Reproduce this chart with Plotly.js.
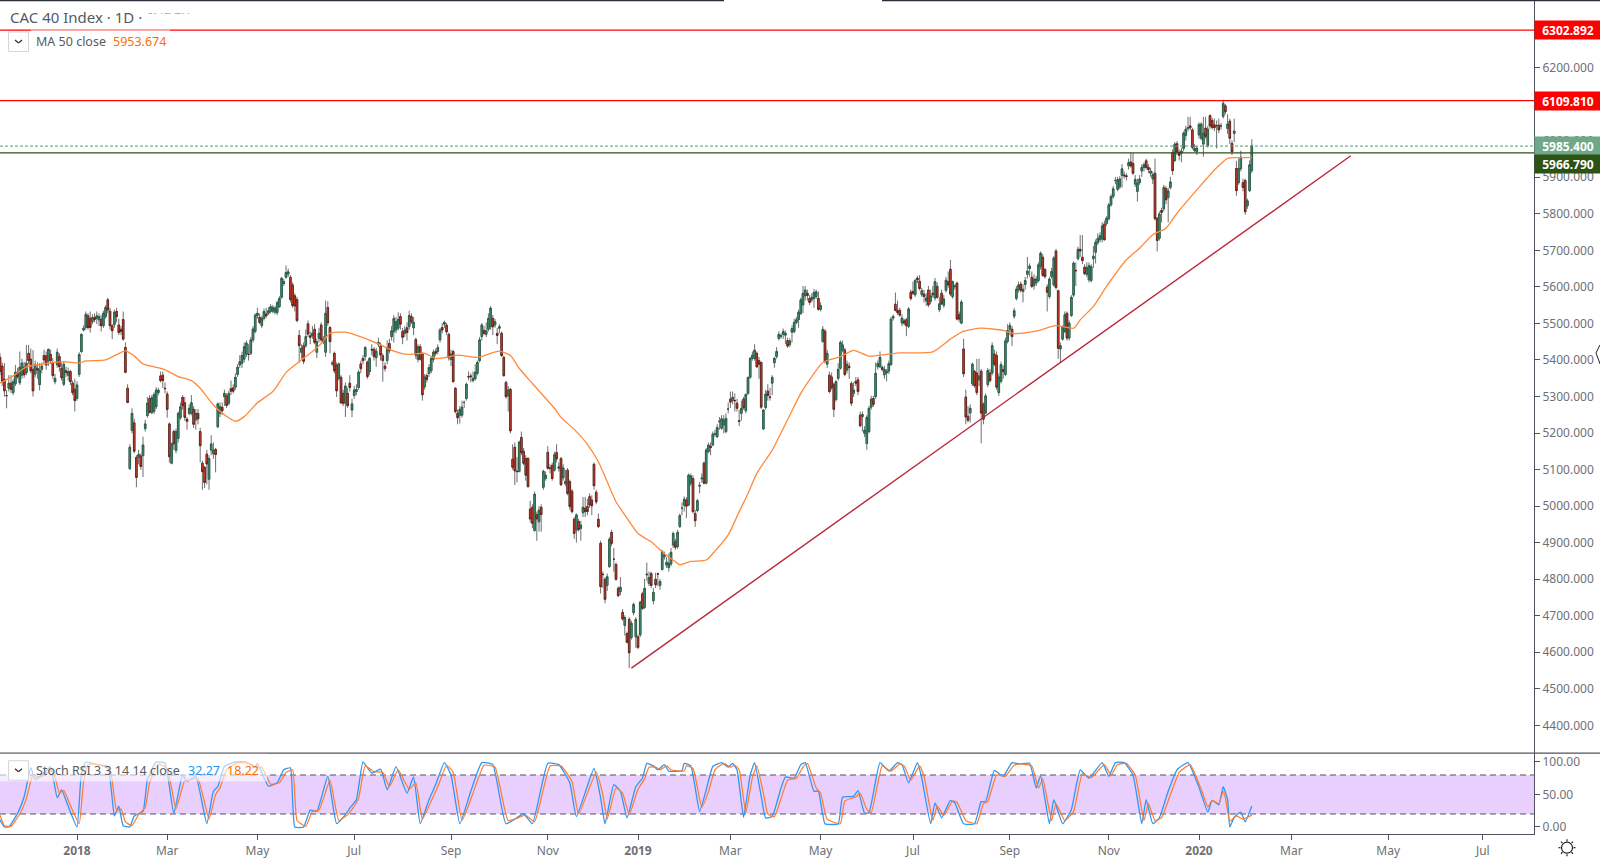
<!DOCTYPE html>
<html><head><meta charset="utf-8">
<script src="https://cdn.plot.ly/plotly-3.0.1.min.js"></script>
<style>html,body{margin:0;padding:0;background:#fff}#chart{width:1600px;height:860px}</style>
</head><body><div id="chart"></div>
<script>
const opens=[5404,5380,5344,5298,5319,5333,5307,5331,5363,5334,
5355,5377,5362,5415,5399,5371,5358,5374,5329,5371,
5409,5408,5394,5412,5390,5337,5383,5406,5374,5330,
5367,5355,5365,5333,5316,5291,5357,5420,5479,5486,
5518,5511,5502,5514,5511,5507,5508,5491,5516,5562,
5531,5491,5494,5530,5493,5481,5508,5431,5319,5098,
5203,5224,5129,5129,5133,5134,5208,5244,5291,5252,
5255,5268,5307,5353,5355,5319,5303,5221,5113,5200,
5148,5181,5238,5294,5279,5234,5250,5250,5261,5232,
5250,5200,5113,5102,5138,5069,5149,5139,5151,5213,
5250,5267,5296,5298,5278,5318,5320,5322,5357,5383,
5388,5399,5413,5412,5415,5452,5475,5519,5514,5491,
5511,5523,5525,5530,5531,5528,5527,5543,5569,5607,
5624,5633,5624,5603,5573,5563,5464,5418,5436,5436,
5496,5463,5463,5481,5418,5456,5493,5453,5418,5541,
5486,5386,5415,5383,5346,5349,5305,5278,5305,5333,
5259,5299,5310,5321,5386,5401,5406,5391,5365,5426,
5426,5403,5440,5435,5408,5380,5395,5442,5461,5474,
5479,5484,5516,5475,5470,5485,5488,5516,5485,5453,
5398,5433,5413,5323,5354,5360,5367,5398,5420,5420,
5452,5486,5495,5492,5467,5398,5420,5319,5250,5245,
5245,5280,5291,5351,5353,5340,5345,5360,5395,5461,
5478,5467,5481,5488,5511,5493,5470,5484,5470,5404,
5335,5298,5316,5124,5157,5091,5090,5184,5146,5126,
5126,4987,4992,4928,4972,4952,4992,5047,5071,5143,
5100,5107,5094,5142,5099,5126,5073,5057,5094,5062,
5036,4959,4929,4953,4934,4977,4989,4994,5021,5012,
5110,5033,4959,4893,4808,4794,4777,4829,4923,4849,
4835,4769,4760,4703,4667,4645,4684,4634,4702,4636,
4636,4641,4754,4717,4806,4783,4810,4735,4794,4809,
4777,4821,4856,4833,4826,4836,4888,4897,4884,4939,
4989,4998,5012,4998,5058,5071,4975,4983,5050,5070,
5113,5058,5145,5160,5163,5193,5186,5227,5209,5218,
5200,5262,5289,5285,5285,5278,5230,5250,5289,5257,
5305,5349,5401,5401,5415,5395,5390,5207,5266,5311,
5295,5333,5389,5406,5456,5462,5467,5465,5450,5439,
5473,5475,5500,5508,5525,5548,5573,5580,5566,5562,
5566,5571,5566,5536,5447,5476,5385,5355,5350,5330,
5288,5346,5374,5424,5424,5369,5379,5332,5305,5338,
5342,5245,5241,5195,5167,5200,5267,5291,5296,5378,
5378,5376,5356,5361,5366,5384,5512,5550,5533,5533,
5498,5504,5507,5489,5583,5585,5576,5622,5613,5576,
5578,5559,5589,5558,5580,5567,5599,5535,5580,5547,
5588,5612,5646,5571,5598,5608,5521,5498,5427,5295,
5242,5251,5331,5365,5361,5342,5366,5275,5251,5329,
5361,5361,5413,5409,5307,5338,5370,5357,5448,5481,
5481,5517,5566,5590,5605,5585,5604,5632,5648,5624,
5601,5608,5615,5654,5679,5645,5597,5571,5626,5603,
5696,5587,5427,5454,5475,5525,5457,5519,5575,5643,
5675,5701,5679,5652,5632,5617,5615,5675,5693,5719,
5727,5729,5770,5772,5785,5823,5846,5890,5866,5873,
5904,5905,5903,5930,5941,5937,5880,5860,5884,5916,
5926,5944,5926,5910,5894,5910,5786,5731,5808,5812,
5868,5843,5871,5967,5945,5991,5967,5965,5978,6014,
6033,6040,6029,5972,5969,6015,6006,5990,6034,5986,
6068,6055,6043,6040,6042,6040,6066,6095,6033,6053,
5992,6019,5923,5884,5922,5884,5890,5820,5862,5917];
const closes=[5365,5337,5312,5299,5333,5316,5337,5363,5351,5377,
5388,5356,5388,5395,5367,5312,5384,5369,5369,5380,
5397,5383,5426,5395,5354,5346,5418,5378,5348,5385,
5362,5365,5337,5307,5285,5328,5412,5467,5484,5522,
5486,5486,5513,5508,5518,5516,5491,5525,5541,5534,
5491,5477,5528,5516,5472,5475,5454,5363,5280,5157,
5250,5146,5074,5137,5104,5163,5221,5278,5253,5293,
5301,5314,5314,5340,5340,5318,5261,5131,5166,5166,
5200,5250,5268,5271,5239,5228,5264,5279,5220,5250,
5235,5161,5090,5060,5111,5126,5166,5149,5137,5276,
5268,5257,5305,5272,5305,5311,5311,5349,5377,5392,
5409,5433,5443,5412,5452,5482,5520,5525,5500,5511,
5530,5518,5532,5543,5541,5539,5554,5566,5621,5612,
5637,5639,5563,5546,5545,5505,5436,5429,5393,5461,
5468,5459,5470,5445,5447,5470,5452,5447,5525,5499,
5447,5388,5367,5312,5386,5279,5278,5325,5271,5321,
5276,5314,5316,5363,5373,5395,5431,5351,5401,5424,
5406,5421,5445,5410,5395,5373,5431,5422,5477,5511,
5502,5508,5495,5459,5479,5472,5519,5501,5500,5410,
5433,5399,5301,5349,5343,5376,5401,5418,5415,5431,
5479,5479,5500,5474,5403,5413,5337,5255,5238,5261,
5267,5280,5330,5350,5351,5346,5363,5390,5452,5493,
5470,5477,5511,5539,5488,5502,5464,5488,5409,5354,
5296,5314,5202,5102,5092,5090,5171,5142,5113,5080,
5049,4960,4948,5028,4960,4984,4972,5091,5080,5099,
5099,5071,5136,5125,5103,5054,5100,5063,5030,4994,
4980,4920,4971,4931,4943,4992,4980,4980,4998,4996,
5051,5007,4939,4774,4807,4739,4801,4904,4893,4849,
4794,4749,4772,4685,4689,4621,4592,4673,4725,4684,
4607,4731,4714,4769,4808,4799,4777,4758,4779,4808,
4788,4870,4860,4841,4838,4868,4920,4882,4923,4969,
4989,5014,4995,5080,5078,4980,4955,5010,5052,5072,
5058,5149,5163,5156,5193,5194,5211,5228,5235,5232,
5236,5262,5281,5294,5285,5264,5228,5264,5266,5302,
5348,5401,5410,5424,5378,5385,5267,5259,5303,5299,
5294,5349,5401,5420,5467,5463,5475,5470,5435,5449,
5483,5500,5507,5528,5562,5580,5589,5574,5555,5569,
5582,5584,5536,5546,5481,5392,5415,5310,5320,5261,
5337,5371,5445,5438,5357,5385,5376,5278,5314,5333,
5310,5216,5247,5204,5239,5264,5289,5275,5360,5387,
5404,5371,5371,5365,5387,5509,5516,5533,5527,5520,
5512,5498,5491,5537,5566,5580,5615,5617,5593,5587,
5571,5567,5548,5573,5576,5612,5569,5551,5551,5564,
5616,5603,5578,5612,5600,5509,5509,5556,5359,5240,
5231,5264,5385,5326,5307,5353,5251,5234,5298,5368,
5340,5436,5385,5322,5350,5384,5365,5449,5478,5492,
5461,5532,5591,5603,5588,5591,5615,5641,5655,5599,
5619,5619,5658,5690,5629,5626,5583,5619,5640,5677,
5596,5429,5436,5487,5521,5457,5498,5569,5663,5642,
5701,5696,5670,5634,5650,5656,5653,5682,5720,5731,
5738,5765,5727,5786,5823,5846,5867,5890,5892,5894,
5922,5903,5901,5939,5930,5910,5893,5883,5894,5926,
5933,5926,5920,5916,5906,5785,5725,5798,5802,5871,
5837,5861,5886,5917,5990,5968,5959,5971,6020,6031,
6035,6035,5981,5978,5979,6044,6045,6020,6011,6031,
6040,6036,6035,6041,6029,6040,6102,6079,6045,6006,
5969,6026,5862,5923,5954,5871,5804,5834,5933,5985.4];
const highs=[5415,5390,5388,5314,5355,5355,5345,5383,5375,5420,
5400,5392,5438,5438,5428,5424,5395,5390,5388,5390,
5425,5420,5428,5425,5402,5358,5428,5415,5390,5392,
5378,5376,5370,5340,5345,5338,5418,5470,5492,5530,
5525,5530,5522,5525,5530,5525,5520,5532,5548,5568,
5540,5495,5535,5540,5510,5490,5530,5445,5330,5165,
5264,5235,5135,5150,5140,5186,5232,5295,5300,5300,
5308,5322,5320,5365,5365,5335,5310,5225,5170,5205,
5208,5255,5280,5300,5295,5240,5275,5300,5270,5262,
5262,5210,5120,5105,5150,5135,5190,5170,5155,5280,
5280,5280,5315,5305,5312,5340,5330,5360,5385,5410,
5420,5445,5450,5440,5460,5490,5525,5540,5525,5518,
5538,5540,5542,5550,5548,5545,5560,5572,5625,5620,
5656,5648,5630,5610,5580,5570,5479,5440,5445,5480,
5505,5475,5490,5495,5455,5485,5500,5462,5560,5558,
5490,5395,5420,5390,5390,5355,5315,5335,5320,5355,
5290,5325,5330,5370,5395,5410,5435,5395,5405,5440,
5432,5430,5458,5445,5415,5390,5450,5455,5490,5520,
5515,5528,5525,5485,5490,5500,5532,5525,5515,5458,
5440,5440,5418,5358,5360,5385,5405,5425,5428,5440,
5485,5498,5505,5498,5472,5425,5425,5322,5260,5270,
5285,5285,5335,5365,5360,5365,5385,5395,5460,5498,
5490,5500,5525,5545,5520,5510,5485,5495,5475,5408,
5340,5325,5320,5165,5170,5130,5175,5200,5155,5135,
5130,5010,5000,5035,4980,4995,5000,5095,5090,5160,
5110,5115,5145,5165,5115,5130,5110,5095,5100,5068,
5042,4965,4975,4960,4955,5020,5020,5015,5030,5025,
5115,5040,4975,4900,4815,4800,4810,4910,4930,4880,
4840,4775,4800,4712,4695,4650,4690,4680,4730,4690,
4642,4735,4760,4795,4840,4815,4815,4770,4812,4812,
4795,4875,4870,4855,4865,4880,4925,4905,4930,4975,
5005,5022,5020,5085,5085,5080,4985,5015,5062,5085,
5118,5155,5170,5170,5200,5205,5220,5240,5245,5245,
5250,5280,5310,5310,5305,5290,5260,5285,5295,5305,
5352,5405,5420,5440,5420,5405,5392,5262,5315,5330,
5320,5355,5405,5432,5475,5470,5483,5478,5458,5456,
5492,5510,5515,5535,5568,5600,5600,5590,5575,5580,
5592,5590,5585,5555,5490,5482,5425,5365,5362,5335,
5342,5388,5450,5450,5430,5395,5390,5338,5335,5350,
5350,5255,5255,5215,5245,5270,5298,5298,5390,5395,
5420,5382,5380,5372,5395,5515,5522,5582,5560,5540,
5522,5510,5512,5542,5590,5612,5620,5628,5630,5595,
5590,5580,5600,5590,5600,5622,5610,5570,5590,5575,
5625,5640,5672,5615,5605,5612,5530,5562,5455,5315,
5270,5275,5390,5370,5400,5400,5372,5280,5305,5375,
5372,5445,5425,5420,5360,5392,5382,5458,5495,5500,
5490,5540,5600,5612,5612,5605,5625,5680,5662,5640,
5632,5628,5665,5695,5688,5650,5605,5625,5650,5682,
5702,5590,5445,5492,5530,5530,5505,5575,5668,5665,
5708,5740,5740,5660,5665,5665,5660,5710,5728,5745,
5748,5775,5780,5792,5828,5852,5875,5900,5900,5902,
5935,5915,5910,5950,5965,5965,5905,5895,5905,5935,
5940,5950,5935,5925,5915,5950,5790,5805,5815,5878,
5875,5870,5900,5975,5995,5998,5975,5980,6025,6040,
6065,6065,6035,5990,5985,6050,6050,6065,6065,6040,
6072,6062,6060,6055,6060,6048,6112,6100,6072,6060,
6000,6060,5944,5950,5972,5895,5895,5840,5945,6003];
const lows=[5355,5325,5296,5264,5310,5305,5300,5325,5345,5328,
5345,5348,5355,5385,5360,5296,5350,5345,5313,5360,
5385,5370,5380,5385,5345,5330,5375,5365,5340,5325,
5350,5340,5328,5300,5255,5285,5350,5415,5475,5480,
5480,5472,5495,5500,5495,5490,5475,5485,5510,5525,
5480,5454,5485,5500,5465,5465,5450,5360,5278,5095,
5195,5140,5047,5110,5095,5075,5200,5238,5250,5248,
5248,5262,5300,5335,5320,5305,5238,5115,5110,5150,
5140,5170,5232,5260,5230,5205,5245,5245,5210,5205,
5220,5115,5040,5045,5055,5040,5135,5125,5088,5210,
5240,5245,5270,5265,5272,5300,5305,5315,5350,5375,
5375,5390,5405,5395,5410,5445,5470,5510,5495,5485,
5505,5512,5520,5525,5525,5522,5520,5540,5565,5600,
5620,5625,5555,5540,5530,5500,5389,5400,5385,5430,
5460,5440,5455,5440,5402,5445,5445,5440,5405,5490,
5415,5380,5360,5295,5340,5275,5270,5240,5265,5310,
5240,5290,5300,5315,5360,5385,5395,5345,5355,5410,
5395,5378,5432,5395,5337,5365,5385,5415,5450,5445,
5470,5478,5480,5440,5460,5450,5480,5495,5465,5400,
5390,5395,5285,5315,5335,5350,5360,5390,5408,5412,
5445,5470,5485,5465,5395,5380,5335,5250,5220,5222,
5238,5265,5285,5340,5335,5335,5340,5355,5390,5450,
5465,5460,5475,5480,5465,5485,5440,5470,5405,5350,
5290,5255,5195,5095,5053,5060,5088,5135,5108,5065,
5045,4950,4935,4925,4900,4925,4925,5040,5065,5095,
5085,5065,5090,5115,5090,5050,5065,5050,5025,4985,
4975,4905,4895,4925,4900,4965,4965,4970,4990,4970,
5040,5000,4935,4755,4770,4728,4762,4825,4885,4815,
4790,4745,4750,4680,4640,4618,4550,4628,4695,4605,
4602,4635,4710,4712,4790,4775,4770,4725,4770,4775,
4765,4818,4848,4825,4815,4830,4880,4875,4878,4935,
4970,4980,4962,4995,5050,4975,4938,4978,5030,5060,
5055,5055,5140,5135,5160,5185,5182,5205,5205,5195,
5195,5250,5265,5275,5255,5255,5215,5230,5260,5250,
5300,5345,5395,5395,5375,5345,5262,5205,5260,5285,
5285,5300,5375,5400,5450,5455,5455,5440,5430,5432,
5445,5470,5495,5485,5520,5525,5560,5560,5548,5555,
5540,5565,5532,5530,5445,5388,5375,5305,5315,5240,
5282,5340,5370,5418,5352,5360,5345,5270,5295,5325,
5300,5212,5200,5185,5150,5195,5260,5268,5290,5370,
5375,5365,5345,5338,5358,5380,5505,5530,5520,5515,
5490,5492,5462,5484,5560,5575,5570,5608,5588,5570,
5555,5545,5542,5550,5568,5560,5565,5528,5548,5540,
5582,5595,5572,5565,5590,5505,5500,5495,5350,5220,
5225,5225,5325,5320,5300,5325,5168,5220,5248,5322,
5335,5355,5380,5315,5298,5332,5345,5352,5442,5465,
5435,5510,5560,5582,5582,5555,5590,5620,5625,5595,
5590,5600,5610,5645,5625,5620,5530,5565,5620,5598,
5590,5400,5390,5450,5470,5450,5450,5515,5570,5600,
5670,5680,5660,5630,5625,5610,5610,5650,5662,5712,
5720,5720,5725,5765,5780,5818,5840,5880,5860,5866,
5870,5895,5890,5920,5925,5905,5872,5832,5878,5900,
5915,5920,5910,5900,5880,5780,5695,5725,5775,5805,
5825,5775,5865,5905,5940,5960,5945,5940,5970,6000,
6025,6028,5975,5968,5960,6005,6000,5955,6005,5980,
6032,6030,6025,5978,6020,6030,6060,6072,6018,5990,
5960,5995,5848,5878,5915,5860,5796,5812,5858,5910];
const maIdx=[0,6,12,20,29,36,39,48,57,61,65,74,81,87,91,97,102,107,111,117,124,130,136,142,146,150,157,165,173,179,185,193,198,202,208,217,227,232,236,242,252,255,261,267,272,276,280,285,290,296,301,307,309,314,321,324,331,336,340,344,351,359,364,369,374,382,388,395,403,409,424,432,438,446,456,461,471,480,488,491,497,503,512,518,524,530,535,544,552,558,563,569];
const maVal=[5333,5353,5378,5386,5392,5388,5394,5397,5422,5408,5386,5372,5351,5340,5319,5273,5246,5228,5241,5279,5310,5362,5392,5420,5442,5470,5473,5458,5438,5421,5412,5415,5401,5403,5410,5404,5421,5409,5374,5332,5264,5239,5206,5165,5117,5062,5007,4962,4920,4897,4870,4842,4834,4843,4847,4865,4916,4980,5030,5085,5149,5245,5305,5351,5390,5406,5423,5407,5412,5416,5419,5454,5476,5484,5478,5469,5476,5491,5484,5507,5544,5599,5672,5704,5741,5759,5800,5864,5919,5951,5953,5953.674];
const kIdx=[0,2,4,8,11,14,16,20,23,26,28,31,35,37,39,44,49,52,54,56,59,61,65,67,71,75,79,83,85,89,94,97,99,102,107,112,116,117,122,126,129,132,134,138,141,144,149,153,157,159,162,165,169,173,176,180,185,188,191,195,198,202,205,209,214,219,224,230,238,242,249,254,259,262,270,273,275,279,282,285,289,292,294,297,299,302,304,310,311,314,318,321,324,328,331,333,335,338,341,343,346,348,351,355,357,361,364,366,370,372,375,381,383,388,390,393,395,400,404,408,410,413,417,419,423,425,428,432,434,438,443,446,448,452,456,460,463,468,471,473,477,479,483,487,491,495,501,504,507,511,515,519,521,524,527,531,535,540,545,549,551,554,556,558,559,561,564,566,569];
const kVal=[11,0,0,21,47,91,73,83,93,45,57,32,0,83,100,96,93,17,32,2,0,17,24,73,100,98,21,80,70,78,5,55,62,93,100,100,91,98,63,68,88,91,0,0,26,24,78,5,19,29,42,100,83,89,57,93,52,77,5,42,65,99,80,5,55,99,96,5,20,5,98,96,68,16,90,45,5,65,55,14,62,75,98,94,88,96,86,87,98,94,24,57,93,99,92,98,88,15,80,99,47,14,16,60,77,75,96,99,55,55,5,5,46,47,56,21,22,99,86,99,96,68,99,75,5,37,14,41,37,5,5,39,39,87,78,99,97,98,60,79,5,42,5,27,88,75,99,78,99,99,80,5,42,5,14,55,88,99,61,23,41,34,62,42,0,15,23,8,32.27];
const dIdx=[0,2,5,9,12,15,18,21,24,27,29,32,36,38,40,45,50,53,55,57,60,63,66,68,72,76,80,84,86,90,95,98,100,103,108,113,117,119,123,127,130,133,135,139,142,145,150,154,158,160,163,166,170,174,177,181,186,189,192,196,199,203,206,210,215,220,225,231,239,243,250,255,260,263,271,274,276,280,283,286,290,293,295,298,300,303,305,311,312,315,319,322,325,329,332,334,336,339,342,344,347,349,352,356,358,362,365,367,371,373,376,382,384,389,391,394,396,401,405,409,411,414,418,420,424,426,429,433,435,439,444,447,449,453,457,461,464,469,472,474,478,480,484,488,492,496,502,505,508,512,516,520,522,525,528,532,536,541,546,549,551,554,556,557,559,562,565,569];
const dVal=[18,2,1,20,44,80,76,82,88,52,56,33,5,70,96,96,88,25,28,8,2,19,30,68,97,90,28,72,72,74,12,50,60,88,99,98,92,92,66,68,84,88,10,1,24,26,72,10,19,27,44,94,85,84,62,88,58,68,12,40,62,95,84,10,52,95,92,10,18,8,94,94,70,20,84,50,12,60,52,19,58,74,92,92,88,94,88,86,94,90,30,54,88,98,92,95,88,22,76,94,52,20,16,54,72,75,92,98,60,52,12,5,40,46,52,27,22,94,86,97,94,72,94,78,10,32,18,40,38,10,5,36,39,80,78,95,97,94,60,74,10,36,10,24,82,76,96,80,96,98,80,10,36,10,14,50,84,96,58,31,41,36,55,45,9,17,12,18.22];
const trendIdx=[287,614];
const trendVal=[4550,5958];
const priceTicks=[4400,4500,4600,4700,4800,4900,5000,5100,5200,5300,5400,5500,5600,5700,5800,5900,6000,6200];
const rsiTicks=[0,50,100];
const rsiLabels=["0.00","50.00","100.00"];
const timeTicks=[35,76,117,161,205,249,290,332,373,415,459,504,545,587,631,674];
const timeLabels=["<b>2018</b>","Mar","May","Jul","Sep","Nov","<b>2019</b>","Mar","May","Jul","Sep","Nov","<b>2020</b>","Mar","May","Jul"];
const levels={upper:6302.892,lower:6109.81,last:5985.4,prev:5966.79};
const bandLow=20,bandHigh=80;

const W=1534,H=834.3;
const px=x=>x/W, py=y=>1-y/H;
// the readings above were taken against a scale of 0.364 px per point; the tick labels give 0.3655
const cal=p=>6200-(6200-p)*0.364/0.3655;
const idx=opens.map((_,i)=>i);
const O=opens.map(cal),C=closes.map(cal),Hi=highs.map(cal),Lo=lows.map(cal);
const bodyTop=O.map((o,i)=>Math.max(o,C[i]));
const bodyBot=O.map((o,i)=>Math.min(o,C[i]));
const wick='#6f6f72';
const traces=[
 {type:'candlestick',x:idx,open:O,high:Hi,low:Lo,close:C,xaxis:'x',yaxis:'y',whiskerwidth:0,
  increasing:{line:{color:wick,width:1},fillcolor:wick},decreasing:{line:{color:wick,width:1},fillcolor:wick},hoverinfo:'skip',showlegend:false},
 {type:'candlestick',x:idx,open:O,high:bodyTop,low:bodyBot,close:C,xaxis:'x',yaxis:'y',whiskerwidth:0,
  increasing:{line:{color:'#1f5a40',width:0.8},fillcolor:'#46997a'},decreasing:{line:{color:'#5e1c14',width:0.8},fillcolor:'#e04530'},hoverinfo:'skip',showlegend:false},
 {type:'scatter',mode:'lines',x:maIdx,y:maVal.map(cal),xaxis:'x',yaxis:'y',line:{color:'#ff8a3c',width:1.3,shape:'spline',smoothing:0.6},hoverinfo:'skip',showlegend:false},
 {type:'scatter',mode:'lines',x:trendIdx,y:trendVal.map(cal),xaxis:'x',yaxis:'y',line:{color:'#b8283a',width:1.4},hoverinfo:'skip',showlegend:false},
 {type:'scatter',mode:'lines',x:kIdx,y:kVal,xaxis:'x',yaxis:'y2',line:{color:'#2f96f3',width:1.3,shape:'spline',smoothing:0.4},hoverinfo:'skip',showlegend:false},
 {type:'scatter',mode:'lines',x:dIdx,y:dVal,xaxis:'x',yaxis:'y2',line:{color:'#ff7a2a',width:1.2,shape:'spline',smoothing:0.4},hoverinfo:'skip',showlegend:false}
];
const paperRect=(x0,y0,x1,y1,fill,line,layer)=>({type:'rect',xref:'paper',yref:'paper',x0:px(x0),x1:px(x1),y0:py(y0),y1:py(y1),fillcolor:fill,line:line||{width:0},layer:layer||'above'});
const paperLine=(x0,y0,x1,y1,color,width)=>({type:'line',xref:'paper',yref:'paper',x0:px(x0),x1:px(x1),y0:py(y0),y1:py(y1),line:{color:color,width:width},layer:'above'});
const hline=(v,color,width,dash)=>({type:'line',xref:'paper',yref:'y',x0:0,x1:1,y0:v,y1:v,line:{color:color,width:width,dash:dash||'solid'},layer:'above'});
const shapes=[
 {type:'rect',xref:'paper',yref:'y2',x0:0,x1:1,y0:bandLow,y1:bandHigh,fillcolor:'#e9cffd',line:{width:0},layer:'below'},
 {type:'line',xref:'paper',yref:'y2',x0:0,x1:1,y0:bandLow,y1:bandLow,line:{color:'#5a4f66',width:1,dash:'6px,4px'},layer:'below'},
 {type:'line',xref:'paper',yref:'y2',x0:0,x1:1,y0:bandHigh,y1:bandHigh,line:{color:'#5a4f66',width:1,dash:'6px,4px'},layer:'below'},
 hline(levels.upper,'#ff0000',1.2),hline(levels.lower,'#ff0000',1.2),
 hline(levels.last,'#4f9a76',1,'3px,2px'),hline(levels.prev,'#2c5214',1.2),
 paperLine(0,753.3,1600,753.3,'#50535e',1.2),
 paperLine(0,0.6,724,0.6,'#2a2e39',1.4),paperLine(882,0.6,1600,0.6,'#2a2e39',1.4),
 paperRect(31,29.5,170,31.2,'rgba(255,255,255,0.55)'),
 paperRect(0,753.9,267,781.7,'rgba(255,255,255,0.6)'),
 paperRect(8.5,32,28.5,51.5,'#ffffff',{color:'#d4d6dc',width:1}),
 paperRect(8.5,761,28.5,780.5,'#ffffff',{color:'#d4d6dc',width:1}),
 paperLine(15,40,18.5,43,'#333',1.3),paperLine(18.5,43,22,40,'#333',1.3),
 paperLine(15,769,18.5,772,'#333',1.3),paperLine(18.5,772,22,769,'#333',1.3),
 paperLine(1600,345,1596,353,'#222',1),paperLine(1596,353,1600,364,'#222',1),
 {type:'circle',xref:'paper',yref:'paper',x0:px(1561.5),x1:px(1572.5),y0:py(842.5),y1:py(853.5),line:{color:'#222',width:1.2},fillcolor:'rgba(0,0,0,0)',layer:'above'}
];
for(let a=0;a<8;a++){const t=a*Math.PI/4;shapes.push(paperLine(1567+6.5*Math.cos(t),848+6.5*Math.sin(t),1567+8.5*Math.cos(t),848+8.5*Math.sin(t),'#222',1.2));}
const tf='"Noto Sans",sans-serif';
const txt=(x,y,t,color,size,extra)=>Object.assign({xref:'paper',yref:'paper',x:px(x),y:py(y),text:t,showarrow:false,xanchor:'left',yanchor:'middle',font:{family:tf,size:size,color:color}},extra||{});
const tag=(v,bg,shift)=>({xref:'paper',yref:'y',x:1,y:v,yshift:shift||0,xanchor:'left',yanchor:'middle',text:'<b>'+v.toFixed(3)+'</b>',showarrow:false,bgcolor:bg,width:66,height:18,borderpad:0,align:'center',font:{family:tf,size:12,color:'#ffffff'}});
const annotations=[
 txt(7.5,17,'CAC 40 Index · 1D ·','#555a63',15),
 txt(146,18,'INDEX','#555a63',14),
 txt(145,21,' ','#fff',8,{bgcolor:'#ffffff',width:52,height:14,borderpad:0}),
 txt(34,41.5,'MA 50 close','#555a63',12.5),
 txt(111,41.5,'5953.674','#ff6d00',12.5),
 txt(34,770.5,'Stoch RSI 3 3 14 14 close','#555a63',12.5),
 txt(186,770.5,'32.27','#2196f3',12.5),
 txt(225,770.5,'18.22','#ff6d00',12.5),
 tag(levels.upper,'#ff0000'),tag(levels.lower,'#ff0000'),
 tag(levels.last,'#6fa888'),tag(levels.prev,'#2c5214',-11)
];
const axisFont={family:tf,size:12,color:'#6e7076'};
const layout={
 width:1600,height:860,margin:{l:0,r:66,t:0,b:25.7,pad:0},paper_bgcolor:'#ffffff',plot_bgcolor:'#ffffff',
 font:{family:tf},showlegend:false,boxgap:0,boxmode:'overlay',dragmode:false,
 xaxis:{type:'linear',range:[0,W/2.2],domain:[0,1],anchor:'y2',rangeslider:{visible:false},showgrid:false,zeroline:false,
  tickmode:'array',tickvals:timeTicks,ticktext:timeLabels,ticks:'outside',ticklen:5,tickcolor:'#50535e',tickfont:axisFont,
  showline:true,linecolor:'#50535e',linewidth:1.2},
 yaxis:{domain:[81/H,1],range:[4324.3,6385.2],side:'right',anchor:'x',showgrid:false,zeroline:false,tickmode:'array',tickvals:priceTicks,
  tickformat:'.3f',ticks:'outside',ticklen:5,tickcolor:'#50535e',tickfont:axisFont,showline:true,linecolor:'#50535e',linewidth:1.2},
 yaxis2:{domain:[0,81/H],range:[-10.8,113.8],side:'right',anchor:'x',showgrid:false,zeroline:false,tickmode:'array',tickvals:rsiTicks,ticktext:rsiLabels,
  ticks:'outside',ticklen:5,tickcolor:'#50535e',tickfont:axisFont,showline:true,linecolor:'#50535e',linewidth:1.2},
 shapes:shapes,annotations:annotations
};
Plotly.newPlot('chart',traces,layout,{displayModeBar:false,responsive:false});
</script></body></html>
